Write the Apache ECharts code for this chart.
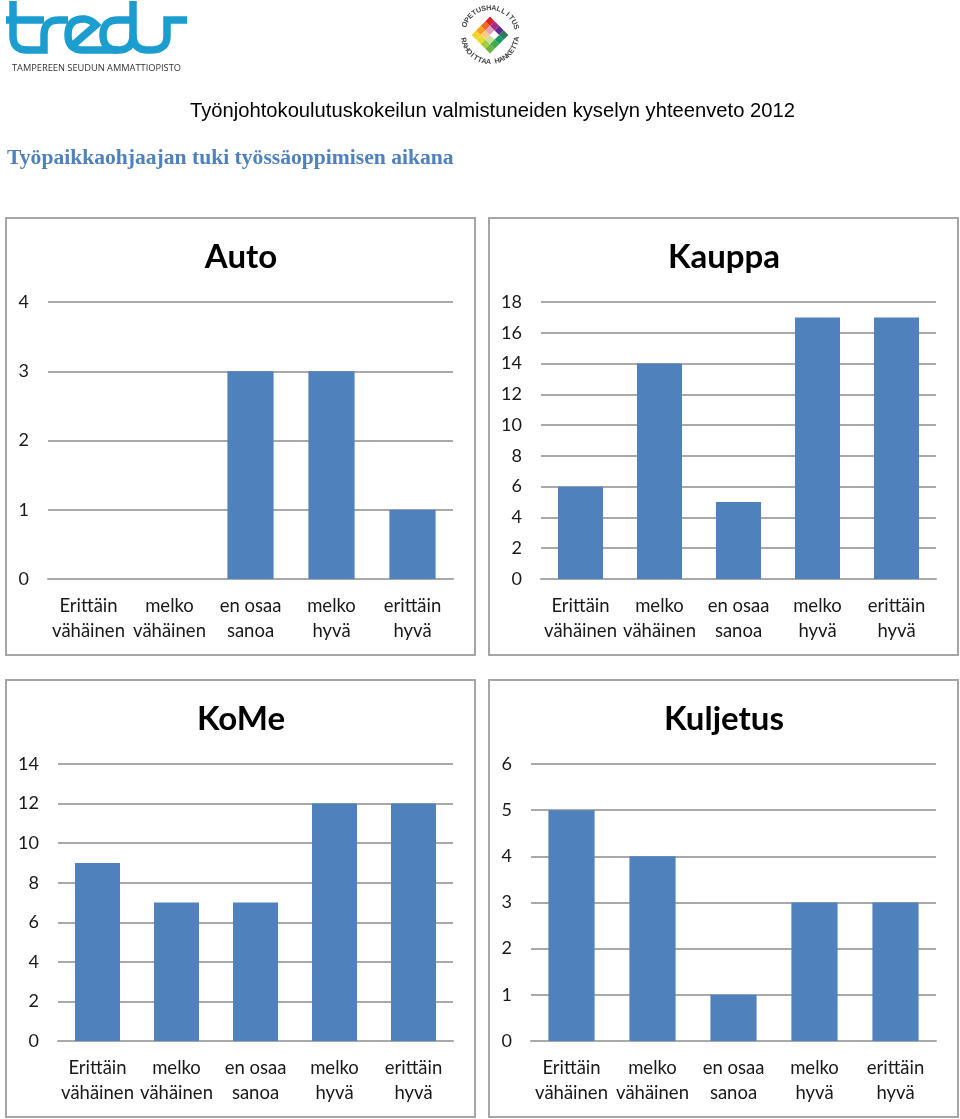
<!DOCTYPE html>
<html>
<head>
<meta charset="utf-8">
<title>Työpaikkaohjaajan tuki työssäoppimisen aikana</title>
<script src="https://cdn.jsdelivr.net/npm/echarts@6/dist/echarts.min.js"></script>
<style>
  html, body { margin: 0; padding: 0; background: #fff; }
  #chart { width: 960px; height: 1119px; }
</style>
</head>
<body>
<div id="chart"></div>
<script>
var categories = ['Erittäin\nvähäinen', 'melko\nvähäinen', 'en osaa\nsanoa', 'melko\nhyvä', 'erittäin\nhyvä']
var auto = [0, 0, 3, 3, 1]
var kauppa = [6, 14, 5, 17, 17]
var kome = [9, 7, 7, 12, 12]
var kuljetus = [5, 4, 1, 3, 3]
var names = ['Auto', 'Kauppa', 'KoMe', 'Kuljetus']
var values = [auto, kauppa, kome, kuljetus]
var maxes = [4, 18, 14, 6]
var intervals = [1, 2, 2, 1]

var grids = [
  { left: 48, width: 405, top: 302, height: 277 },
  { left: 541, width: 395, top: 302, height: 277 },
  { left: 58, width: 395, top: 764, height: 277 },
  { left: 531, width: 405, top: 764, height: 277 }
]
var panels = [[6, 218], [489, 218], [6, 680], [489, 680]]
var titleCenters = [[236, 236], [719, 236], [236, 698], [719, 698]]

var lineColor = '#a9a9a9'
var textFont = 'Lato'
var logoBlue = '#1b9dd0'

var graphic = []

// kehykset
panels.forEach(function (p) {
  graphic.push({
    type: 'rect',
    shape: { x: p[0], y: p[1], width: 469, height: 437 },
    style: { fill: 'none', stroke: '#a6a6a6', lineWidth: 2 }
  })
})

// otsikot
graphic.push({
  type: 'text', x: 190, y: 101,
  style: { text: 'Työnjohtokoulutuskokeilun valmistuneiden kyselyn yhteenveto 2012', fill: '#000', font: '20.2px "Liberation Sans"' }
})
graphic.push({
  type: 'text', x: 7, y: 147,
  style: { text: 'Työpaikkaohjaajan tuki työssäoppimisen aikana', fill: '#4f81bd', font: 'bold 21.6px "Liberation Serif"' }
})

// tredu-logo: pisteet [x, y] tai kaari [ohjausX, ohjausY, x, y]
function strokePoints (segs) {
  var pts = []
  segs.forEach(function (s) {
    if (s.length === 2) {
      pts.push(s)
      return
    }
    var p0 = pts[pts.length - 1]
    for (var t = 1; t <= 8; t++) {
      var u = t / 8
      pts.push([
        (1 - u) * (1 - u) * p0[0] + 2 * u * (1 - u) * s[0] + u * u * s[2],
        (1 - u) * (1 - u) * p0[1] + 2 * u * (1 - u) * s[1] + u * u * s[3]
      ])
    }
  })
  return pts
}
var treduStrokes = [
  [[13, 1], [13, 36], [13, 50, 27, 50], [44, 50], [44, 35], [44, 20, 59, 20], [68, 20]],
  [[6, 20], [44, 20]],
  [[72, 46], [96, 25], [90, 19, 83, 19], [68, 19, 68, 35], [68, 50, 83, 50], [118, 50]],
  [[133, 1], [133, 35], [133, 50, 118, 50], [103, 50, 103, 35], [103, 20, 118, 20], [133, 20]],
  [[133, 35], [133, 50, 148, 50], [151, 50], [167, 50, 167, 36], [167, 20], [187, 20]]
]
treduStrokes.forEach(function (segs) {
  graphic.push({
    type: 'polyline',
    shape: { points: strokePoints(segs) },
    style: { fill: 'none', stroke: logoBlue, lineWidth: 7.5 }
  })
})
graphic.push({
  type: 'text', x: 12, y: 64,
  style: { text: 'TAMPEREEN SEUDUN AMMATTIOPISTO', fill: '#333', font: '9.25px "Open Sans"' }
})

// rahoittajan merkki
var diamondColors = [
  ['#f5d327', '#f7a11c', '#ee6a22', '#d8232a'],
  ['#e8de2a', '#fbc98a', '#e3a0c0', '#a52a8c'],
  ['#a5cd39', '#c9e29a', '#ffffff', '#5b2d90'],
  ['#6cb33f', '#3fae49', '#1a9a6c', '#2b7a5a']
]
var cx = 490, cy = 35, cell = 6.5
diamondColors.forEach(function (row, r) {
  row.forEach(function (c, i) {
    graphic.push({
      type: 'rect',
      x: cx, y: cy, rotation: Math.PI / 4,
      shape: { x: (i - 2) * cell, y: (r - 2) * cell, width: cell, height: cell },
      style: { fill: c }
    })
  })
})
function ringText (txt, from, to, radius, flip) {
  txt.split('').forEach(function (ch, i) {
    var a = from + (to - from) * i / (txt.length - 1)
    graphic.push({
      type: 'text',
      x: cx + radius * Math.cos(a),
      y: cy + radius * Math.sin(a),
      rotation: flip ? Math.PI / 2 - a : -a - Math.PI / 2,
      style: { text: ch, fill: '#444', font: 'bold 7.2px "Liberation Sans"', align: 'center', verticalAlign: 'middle' }
    })
  })
}
ringText('OPETUSHALLITUS', -2.75, -0.3, 27, false)
ringText('RAHOITTAA HANKETTA', 2.95, 0.15, 27, true)

var option = {
  animation: false,
  backgroundColor: '#fff',
  textStyle: { fontFamily: textFont },
  title: names.map(function (n, i) {
    return {
      text: n,
      left: titleCenters[i][0],
      top: titleCenters[i][1],
      textAlign: 'center',
      textStyle: { fontFamily: textFont, fontWeight: 'bold', fontSize: 33, color: '#000' }
    }
  }),
  grid: grids,
  xAxis: grids.map(function (g, i) {
    return {
      type: 'category',
      gridIndex: i,
      data: categories,
      axisTick: { show: false },
      axisLine: { lineStyle: { color: lineColor, width: 2 } },
      axisLabel: { interval: 0, color: '#1a1a1a', fontFamily: textFont, fontSize: 18.5, lineHeight: 25, margin: 15, hideOverlap: false }
    }
  }),
  yAxis: grids.map(function (g, i) {
    return {
      type: 'value',
      gridIndex: i,
      min: 0,
      max: maxes[i],
      interval: intervals[i],
      axisLine: { show: false },
      axisTick: { show: false },
      splitLine: { lineStyle: { color: lineColor, width: 2 } },
      axisLabel: { color: '#1a1a1a', fontFamily: textFont, fontSize: 18, margin: 19 }
    }
  }),
  series: values.map(function (v, i) {
    return {
      name: names[i],
      type: 'bar',
      xAxisIndex: i,
      yAxisIndex: i,
      data: v,
      barCategoryGap: '43%',
      itemStyle: { color: '#4f81bd' }
    }
  }),
  graphic: graphic
}

var myChart = echarts.init(document.getElementById('chart'), null, { renderer: 'canvas' })
myChart.setOption(option)
</script>
</body>
</html>
